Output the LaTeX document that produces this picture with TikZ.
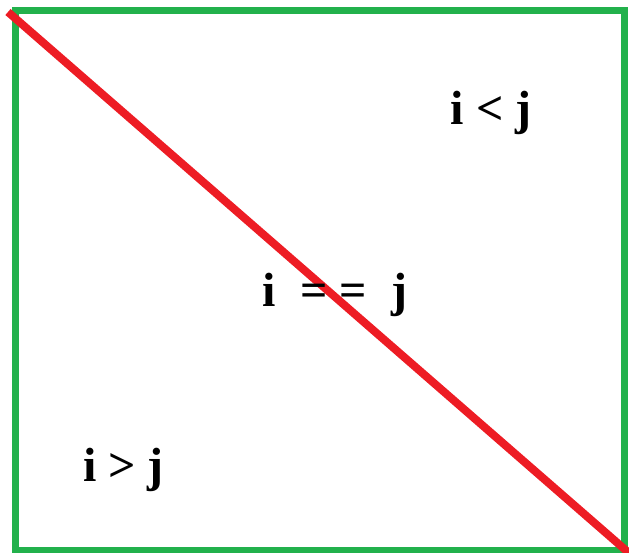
\documentclass[tikz,border=0pt]{standalone}
\usepackage{fontspec}
\setmainfont{Liberation Serif}
\usetikzlibrary{positioning}
\definecolor{paintgreen}{RGB}{34,177,76}
\definecolor{paintred}{RGB}{237,28,36}

\begin{document}
\begin{tikzpicture}[x=0.5pt, y=-0.5pt,
    lbl/.style={anchor=base, inner sep=0pt, font=\fontsize{24}{28}\selectfont\bfseries}]
        \useasboundingbox (0,0) rectangle (629,553);
        \coordinate (nw) at (16,10.5);
        \coordinate (se) at (625,550);
        \draw[line width=3.5pt, paintgreen] (nw) rectangle (se);
        \draw[line width=4pt, paintred] (8,12) -- (629,553);

        \node[lbl] (upper) at (491,124) {i < j};
        \node[lbl] (diag) at (335,306) {i\ \ = =\ \ j};
        \node[lbl] (lower) at (123.5,481) {i > j};
    \end{tikzpicture}
\end{document}
